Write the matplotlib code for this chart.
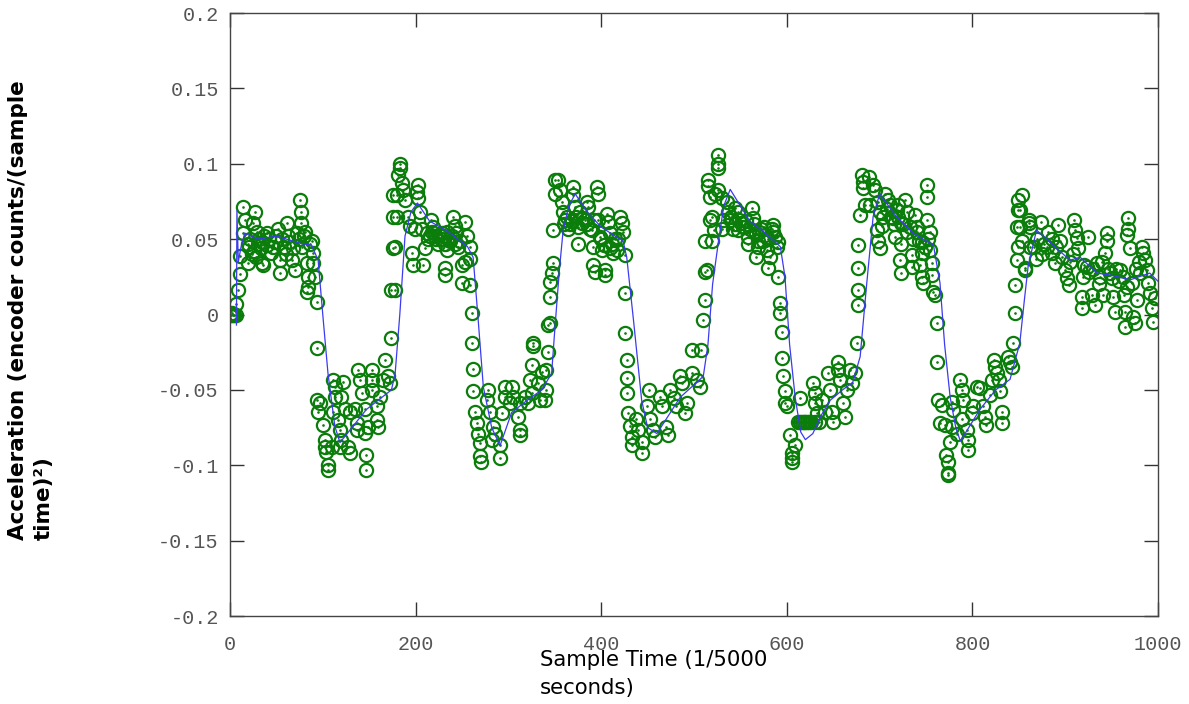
import numpy as np
import matplotlib
matplotlib.use("Agg")
import matplotlib.pyplot as plt

# ---------------------------------------------------------------------------
# Data
# ---------------------------------------------------------------------------

# fitted acceleration (blue line)
fit_t = [7, 7.5, 9, 12, 16, 30, 50, 77, 88, 95, 100, 105.6, 113, 118.5, 125,
         147, 174, 178, 183, 188.6, 195, 202, 215, 235, 256, 262, 267, 273,
         282, 291, 303.5, 320, 336, 346.6, 350, 355, 359, 365, 372, 385, 400,
         415, 423.5, 427.5, 435, 443.6, 450, 460, 485, 510, 515, 520, 526,
         532, 539, 560, 575, 593, 598, 603, 609, 615, 620, 628, 636, 646.5,
         660, 671, 679, 686, 693, 700, 718, 736, 758, 765, 770, 776, 782, 787,
         808, 825, 840.5, 851, 856, 860, 869, 880, 905, 916, 934, 950, 970,
         991, 1000]
fit_acc = [-0.007, 0.069, 0.035, 0.045, 0.054, 0.05, 0.052, 0.047, 0.046,
           0.036, 0.0, -0.039, -0.074, -0.085, -0.08, -0.063, -0.05, -0.039,
           0.0, 0.052, 0.068, 0.074, 0.062, 0.055, 0.045, 0.038, 0.0, -0.048,
           -0.075, -0.087, -0.065, -0.057, -0.05, -0.039, -0.01, 0.03, 0.056,
           0.072, 0.08, 0.068, 0.058, 0.052, 0.049, 0.038, -0.005, -0.057,
           -0.075, -0.079, -0.055, -0.041, -0.02, 0.02, 0.047, 0.072, 0.083,
           0.062, 0.055, 0.045, 0.025, -0.02, -0.055, -0.078, -0.083, -0.079,
           -0.068, -0.057, -0.05, -0.045, -0.028, 0.02, 0.065, 0.08, 0.065,
           0.054, 0.046, 0.021, -0.02, -0.055, -0.075, -0.084, -0.063, -0.05,
           -0.043, -0.019, 0.01, 0.032, 0.056, 0.05, 0.036, 0.038, 0.0275,
           0.026, 0.023, 0.0275, 0.022]

# measured acceleration (green circles), (sample, value) per stretch
cycle1_pts = [
    (0, 0), (1.5, 0), (3, 0), (4.5, 0), (6, 0), (2, 0.001), (7, 0.007),
    (9, 0.016), (11, 0.027), (11, 0.039), (14, 0.071), (16, 0.063),
    (27, 0.068), (25, 0.061), (14, 0.054), (19.5, 0.047), (19.5, 0.034),
    (34, 0.034), (36, 0.033), (30, 0.047), (29, 0.055), (39.5, 0.054),
    (46.5, 0.045), (52, 0.057), (54, 0.036), (54, 0.0275), (61, 0.061),
    (62.5, 0.052), (66.5, 0.036), (70, 0.0295), (72, 0.054), (75.4, 0.076),
    (76.5, 0.068), (77, 0.061), (81, 0.055), (82.6, 0.034), (88, 0.049),
    (89.5, 0.041), (89.5, 0.034), (91.5, 0.025), (84, 0.025), (84, 0.0185),
    (82.6, 0.015), (93.4, 0.0085), (93.4, -0.022), (20, 0.045), (22, 0.05),
    (24, 0.04), (26, 0.042), (28, 0.038), (31, 0.05), (33, 0.044),
    (35, 0.048), (37, 0.052), (40, 0.046), (42, 0.05), (44, 0.041),
    (48, 0.048), (50, 0.052), (56, 0.05), (58, 0.045), (60, 0.04),
    (64, 0.048), (68, 0.044), (74, 0.05), (78, 0.045), (80, 0.052),
    (86, 0.047),
    (93.4, -0.057), (97, -0.059), (95, -0.065), (100, -0.073), (102, -0.083),
    (102, -0.088), (105.6, -0.1), (105.6, -0.103), (104, -0.091),
    (109.6, -0.088), (111, -0.0435), (113, -0.048), (113, -0.0545),
    (122, -0.0445), (120, -0.0545), (111, -0.065), (116.7, -0.07),
    (118.5, -0.0766), (120, -0.083), (118.5, -0.088), (127.5, -0.088),
    (129, -0.092), (124, -0.063), (129, -0.065), (134.7, -0.063),
    (136.5, -0.072), (136.5, -0.0766), (145.5, -0.0786), (147, -0.093),
    (147, -0.103), (138, -0.037), (140, -0.0435), (142, -0.052),
    (152.6, -0.037), (152.6, -0.0435), (152.6, -0.05), (158, -0.07),
    (160, -0.0744), (149, -0.0744), (161.6, -0.0545), (165, -0.0435),
    (167, -0.030), (170.6, -0.041), (172, -0.0455), (145.5, -0.063),
    (158, -0.061),
]

cycle2_pts = [
    (174, -0.0156), (174, 0.016), (176, 0.044), (176, 0.065), (176, 0.079),
    (183, 0.1), (183, 0.097), (181.4, 0.0925), (185, 0.087), (186.8, 0.0826),
    (179.6, 0.079), (188.6, 0.076), (203, 0.086), (201, 0.0815), (203, 0.077),
    (204.7, 0.068), (179.6, 0.065), (192, 0.065), (178, 0.045), (178, 0.016),
    (195.8, 0.0406), (197.6, 0.033), (208.3, 0.033), (210, 0.044),
    (194, 0.059), (199, 0.057), (206.6, 0.057), (212, 0.054), (217, 0.063),
    (219, 0.058), (221, 0.052), (224.5, 0.047), (228, 0.054), (231.7, 0.047),
    (233.5, 0.043), (231.7, 0.0306), (231.7, 0.026), (237, 0.049),
    (240.6, 0.065), (242.5, 0.059), (244, 0.054), (248, 0.049),
    (253, 0.0615), (255, 0.052), (258.6, 0.045), (253, 0.035),
    (249.6, 0.033), (249.6, 0.0207), (258.6, 0.0196), (258.6, 0.037),
    (213, 0.05), (215, 0.052), (218, 0.055), (222, 0.05), (225, 0.053),
    (227, 0.05), (230, 0.052), (234, 0.055), (236, 0.05), (239, 0.052),
    (243, 0.047), (246, 0.045),
    (260.4, 0.0008), (260.4, -0.019), (262, -0.036), (262, -0.051),
    (264, -0.0645), (266, -0.072), (267.6, -0.079), (269.4, -0.0855),
    (269.4, -0.094), (271, -0.0977), (278, -0.050), (280, -0.0645),
    (276.6, -0.057), (283.7, -0.0744), (285.6, -0.079), (282, -0.083),
    (291, -0.0866), (291, -0.095), (292.6, -0.0655), (296, -0.048),
    (303.6, -0.048), (296, -0.0545), (305, -0.0545), (301.7, -0.059),
    (312.5, -0.059), (310.7, -0.068), (312.5, -0.0766), (312.5, -0.08),
    (318, -0.0545), (321.4, -0.059), (325, -0.052), (327, -0.019),
    (327, -0.021), (325, -0.0335), (323, -0.0435), (332, -0.0457),
    (334, -0.057), (336, -0.038), (341, -0.037), (343, -0.007),
    (343, -0.0247), (339.4, -0.057), (341, -0.05),
]

cycle3_pts = [
    (344.8, -0.0058), (344.8, 0.0118), (344.8, 0.0218), (346.6, 0.0273),
    (348.4, 0.034), (348.4, 0.056), (350, 0.089), (353.8, 0.089),
    (355.6, 0.0826), (350, 0.080), (357.4, 0.0748), (359, 0.068),
    (361, 0.0627), (364.6, 0.057), (370, 0.0848), (370, 0.079),
    (371.7, 0.0715), (375.3, 0.058), (375.3, 0.047), (379, 0.0605),
    (382.5, 0.0627), (384.4, 0.0748), (386, 0.0715), (389.8, 0.056),
    (391.5, 0.045), (391.5, 0.033), (393.3, 0.0284), (395, 0.0848),
    (397, 0.080), (397, 0.0627), (398.7, 0.0516), (400.5, 0.043),
    (404, 0.0295), (404, 0.026), (406, 0.067), (407.6, 0.0615),
    (409.5, 0.054), (411.3, 0.047), (413, 0.0406), (416.7, 0.043),
    (420, 0.065), (422, 0.0605), (423.8, 0.055), (425.6, 0.0395),
    (360, 0.06), (363, 0.065), (366, 0.06), (368, 0.062), (373, 0.065),
    (377, 0.068), (380, 0.064), (385, 0.06), (388, 0.057), (392, 0.063),
    (400, 0.05), (403, 0.046), (410, 0.044), (415, 0.05), (418, 0.05),
    (425.6, 0.014), (425.6, -0.0125), (427.5, -0.030), (427.5, -0.042),
    (427.5, -0.052), (429, -0.0655), (431, -0.074), (433, -0.081),
    (433, -0.0866), (438, -0.069), (440, -0.0766), (443.6, -0.0844),
    (443.6, -0.092), (449, -0.061), (451, -0.050), (452.6, -0.069),
    (456, -0.0766), (458, -0.081), (463, -0.0545), (465, -0.061),
    (470, -0.0744), (472, -0.080), (474, -0.050), (478, -0.0556),
    (481, -0.061), (485, -0.041), (486.7, -0.0457), (490, -0.0655),
    (492, -0.059), (497.5, -0.0235), (508, -0.0235), (497.5, -0.039),
    (503, -0.0435), (506.5, -0.048),
]

cycle4_pts = [
    (510, -0.0036), (512, 0.0096), (512, 0.0284), (512, 0.049),
    (515.4, 0.089), (515.4, 0.085), (526, 0.106), (526, 0.1), (526, 0.097),
    (517, 0.078), (522.6, 0.080), (526, 0.0826), (519, 0.065), (521, 0.056),
    (519, 0.049), (517, 0.0627), (513.7, 0.0295), (530, 0.077),
    (535, 0.0748), (537, 0.068), (531.6, 0.0627), (530, 0.057),
    (544, 0.0705), (547, 0.068), (540, 0.0627), (542, 0.057), (547, 0.056),
    (551, 0.0605), (555, 0.058), (562, 0.0705), (564, 0.064),
    (558, 0.0516), (558, 0.047), (567, 0.054), (569, 0.049), (572.6, 0.057),
    (567, 0.038), (569, 0.045), (574.7, 0.049), (576.5, 0.0527),
    (578.4, 0.043), (580, 0.0306), (582, 0.038), (583.7, 0.057),
    (585.5, 0.0594), (587.3, 0.0516), (589, 0.045),
    (540, 0.065), (544, 0.06), (549, 0.063), (553, 0.058), (556, 0.062),
    (560, 0.057), (565, 0.06), (570, 0.055), (575, 0.058), (580, 0.05),
    (585, 0.055), (590, 0.048),
    (591, 0.025), (593, 0.0074), (593, 0.0008), (594.5, -0.0114),
    (594.5, -0.029), (596.3, -0.041), (598, -0.051), (598, -0.059),
    (600, -0.061), (603.5, -0.080), (605.4, -0.092), (605.4, -0.0954),
    (605.4, -0.0977), (609, -0.0866), (614, -0.0556), (612, -0.071),
    (614, -0.071), (616, -0.071), (618, -0.071), (620, -0.071),
    (622, -0.071), (624, -0.071), (626, -0.071), (630, -0.071),
    (635, -0.071), (628.6, -0.0457), (630, -0.052), (630, -0.059),
    (632, -0.0655), (637.6, -0.0567), (641, -0.0645), (644.7, -0.039),
    (646.5, -0.050), (648.4, -0.0645), (650, -0.071), (655.5, -0.0313),
    (655.5, -0.0368), (657, -0.0435), (661, -0.059), (663, -0.068),
    (664.5, -0.050), (668, -0.0368), (670, -0.0457), (673.5, -0.039),
]

cycle5_pts = [
    (675.3, -0.019), (677, 0.0063), (677, 0.016), (677, 0.0306),
    (677, 0.046), (678.8, 0.066), (680.6, 0.0925), (682.4, 0.088),
    (682.4, 0.0837), (684, 0.0726), (693, 0.086), (695, 0.0826),
    (689.7, 0.0726), (688, 0.0914), (698.6, 0.0748), (706, 0.080),
    (709.4, 0.076), (711, 0.0726), (696.7, 0.056), (698.6, 0.049),
    (700.4, 0.044), (702, 0.059), (714.8, 0.064), (716.7, 0.0516),
    (718.4, 0.069), (720, 0.0726), (723.4, 0.0605), (723.4, 0.047),
    (721.5, 0.036), (723.4, 0.0273), (727, 0.076), (729, 0.068),
    (732.8, 0.058), (734.6, 0.0395), (734.6, 0.0317), (738.4, 0.066),
    (740.3, 0.058), (742, 0.049), (745.4, 0.0406), (743.5, 0.033),
    (745.4, 0.025), (747, 0.0207), (750.7, 0.086), (750.7, 0.078),
    (750.7, 0.0627), (754, 0.055), (754, 0.043), (756, 0.034), (756, 0.026),
    (758, 0.015), (760, 0.013),
    (700, 0.068), (704, 0.065), (708, 0.07), (712, 0.065), (716, 0.06),
    (720, 0.065), (725, 0.06), (730, 0.055), (736, 0.05), (740, 0.055),
    (746, 0.048), (749, 0.045), (752, 0.05),
    (761.5, -0.0058), (761.5, -0.0313), (763.3, -0.0567), (767, -0.060),
    (765, -0.072), (770.5, -0.0733), (772, -0.093), (774, -0.0977),
    (774, -0.105), (774, -0.1065), (777.7, -0.058), (779.5, -0.0633),
    (777.7, -0.0744), (783, -0.079), (776, -0.0844), (786.6, -0.0435),
    (788.4, -0.050), (790, -0.0567), (788.4, -0.069), (795.6, -0.083),
    (795.6, -0.090), (793.8, -0.0766), (799, -0.0655), (801, -0.061),
    (804.6, -0.048), (808, -0.049), (811.5, -0.061), (813, -0.068),
    (815, -0.0733), (819, -0.0534), (821, -0.0435), (823, -0.030),
    (824.8, -0.0346), (826.6, -0.039), (828.4, -0.0435), (830, -0.051),
    (831.8, -0.0645), (831.8, -0.072), (838.7, -0.028), (840.5, -0.0313),
    (842.3, -0.0346), (844, -0.019),
]

cycle6_pts = [
    (846, 0.0008), (846, 0.0196), (848, 0.036), (849.5, 0.045),
    (851.3, 0.058), (849.5, 0.069), (849.5, 0.076), (853, 0.079),
    (856.7, 0.0306), (860.6, 0.0605), (862, 0.045), (851.3, 0.069),
    (847.8, 0.058), (853, 0.049), (857, 0.0295), (860.6, 0.0627),
    (862, 0.058), (866, 0.045), (868, 0.037), (873.6, 0.0615),
    (877.4, 0.047), (881.6, 0.055), (885.4, 0.0406), (889, 0.034),
    (892.5, 0.0594), (894.4, 0.049), (900, 0.0295), (901.7, 0.024),
    (903.5, 0.0196), (909, 0.0627), (910.6, 0.056), (912.4, 0.0505),
    (914, 0.044), (917.8, 0.0118), (917.8, 0.004), (919.5, 0.025),
    (923, 0.0317), (924.9, 0.0516), (928.5, 0.013), (932, 0.0063),
    (934, 0.034), (937.5, 0.025), (941, 0.013), (945, 0.054), (945, 0.049),
    (943, 0.0406), (948, 0.0273), (951.9, 0.0118), (953.7, 0.0019),
    (959, 0.0295), (962.8, 0.013), (964.6, 0.0019), (964.6, -0.008),
    (968, 0.064), (968, 0.057), (966.4, 0.0527), (970, 0.044),
    (971.7, 0.0207), (973.5, -0.0015), (975.3, -0.0058), (977, 0.0096),
    (980.6, 0.0273), (982.5, 0.045), (984, 0.0406), (986, 0.036),
    (987.8, 0.0295), (989.5, 0.0207), (991.4, 0.014), (993.2, 0.004),
    (995, -0.0048), (996.8, 0.0107),
    (870, 0.05), (875, 0.04), (880, 0.045), (886, 0.05), (890, 0.045),
    (896, 0.038), (905, 0.035), (908, 0.04), (920, 0.033), (926, 0.028),
    (930, 0.03), (936, 0.02), (940, 0.035), (946, 0.03), (950, 0.024),
    (955, 0.03), (958, 0.022), (962, 0.025), (966, 0.018), (976, 0.03),
    (979, 0.035),
]

y_ticks = [-0.2, -0.15, -0.1, -0.05, 0, 0.05, 0.1, 0.15, 0.2]
y_tick_labels = ["-0.2", "-0.15", "-0.1", "-0.05", "0", "0.05", "0.1", "0.15", "0.2"]
x_ticks = [0, 200, 400, 600, 800, 1000]
x_tick_labels = ["0", "200", "400", "600", "800", "1000"]

# ---------------------------------------------------------------------------
# Plot
# ---------------------------------------------------------------------------

GREEN = "#0b7d0b"
BLUE = "#3b3bf0"

pts = np.array(cycle1_pts + cycle2_pts + cycle3_pts + cycle4_pts
               + cycle5_pts + cycle6_pts)

fig = plt.figure(figsize=(11.89, 7.04), dpi=100)
ax = fig.add_axes([0.1934, 0.125, 0.7806, 0.8565])

ax.plot(pts[:, 0], pts[:, 1], "o", mfc="none", mec=GREEN, ms=9.5, mew=1.6,
        zorder=2)
ax.plot(pts[:, 0], pts[:, 1], ".", color=GREEN, ms=1.8, zorder=2)
ax.plot(fit_t, fit_acc, "-", color=BLUE, lw=0.9, zorder=3)

ax.set_xlim(0, 1000)
ax.set_ylim(-0.2, 0.2)
ax.set_xticks(x_ticks)
ax.set_xticklabels(x_tick_labels)
ax.set_yticks(y_ticks)
ax.set_yticklabels(y_tick_labels)

for lab in ax.get_xticklabels() + ax.get_yticklabels():
    lab.set_fontfamily("Liberation Mono")
    lab.set_fontsize(14.5)
    lab.set_color("#555555")

ax.tick_params(direction="in", length=10, width=1, color="#333333",
               top=True, right=True)
ax.tick_params(axis="x", pad=14)
ax.tick_params(axis="y", pad=8)
for sp in ax.spines.values():
    sp.set_color("#444444")
    sp.set_linewidth(1.0)

fig.text(0.454, 0.077, "Sample Time (1/5000\nseconds)", ha="left", va="top",
         fontsize=15.3, family="DejaVu Sans", linespacing=1.5)
fig.text(0.007, 0.233, "Acceleration (encoder counts/(sample\ntime)\u00b2)",
         rotation=90, ha="left", va="bottom", multialignment="left",
         fontsize=15.5, fontweight="bold", family="DejaVu Sans",
         linespacing=1.35)

fig.savefig("out.png", dpi=100)
